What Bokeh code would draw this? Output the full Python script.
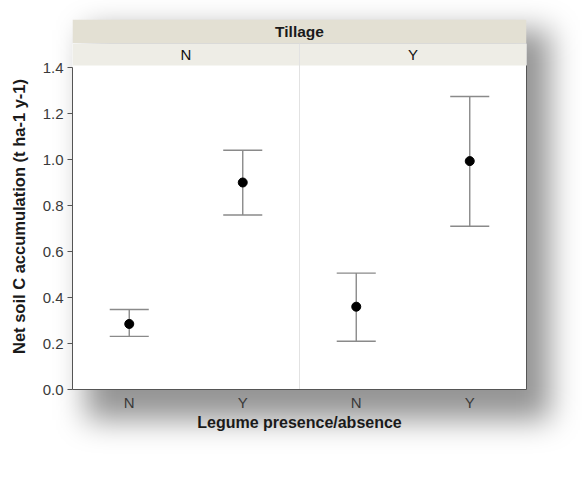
from bokeh.plotting import figure
from bokeh.layouts import column
from bokeh.models import (FixedTicker, LinearAxis, Range1d, ColumnDataSource,
                          NumeralTickFormatter, InlineStyleSheet)
from bokeh.core.properties import value
from bokeh.embed import file_html
from bokeh.resources import INLINE

# ---------------- data ----------------
tillage = ["N", "N", "Y", "Y"]
legume = ["N", "Y", "N", "Y"]
mean = [0.285, 0.900, 0.360, 0.993]
lower = [0.231, 0.759, 0.210, 0.710]
upper = [0.348, 1.040, 0.506, 1.274]
panels = ["N", "Y"]
levels = ["N", "Y"]
y_ticks = [0.0, 0.2, 0.4, 0.6, 0.8, 1.0, 1.2, 1.4]

# ---------------- layout constants ----------------
W, H = 582, 478
ML, MR = 72, 56
TOP_H = 43              # height of the "Tillage" strip figure (incl. top margin)
TOP_MT = 19
MB = 89
MAIN_H = H - TOP_H
FH = MAIN_H - MB        # main frame height in px
PX_PER_Y = 230.0
Y_END = FH / PX_PER_Y
PANEL_TOP = (FH - 22) / PX_PER_Y   # data panel top, facet strip above it
X_END = 2 * len(panels)
FONT = "Liberation Sans"

xs = [panels.index(t) * 2 + levels.index(l) + 0.5 for t, l in zip(tillage, legume)]
cap = 0.172
src = ColumnDataSource(dict(
    x=xs, mean=mean, lower=lower, upper=upper,
    cx0=[v - cap for v in xs], cx1=[v + cap for v in xs],
))

x_range = Range1d(0, X_END)

# ---------------- "Tillage" strip figure ----------------
s = figure(width=W, height=TOP_H, x_range=x_range, y_range=Range1d(0, 1),
           output_backend="svg", toolbar_location=None,
           x_axis_type=None, y_axis_type=None,
           min_border_left=ML, min_border_right=MR, min_border_top=TOP_MT,
           min_border_bottom=0)
s.outline_line_color = None
s.border_fill_alpha = 0
s.background_fill_alpha = 0
s.quad(left=[0], right=[X_END], bottom=[0], top=[1],
       fill_color="#e3e0d3", line_color=None)
s.text(x=[X_END / 2], y=[0.5], text=["Tillage"],
       text_font=value(FONT), text_font_style="bold", text_font_size="15.5px",
       text_align="center", text_baseline="middle", text_color="#1a1a1a")

# ---------------- main figure ----------------
p = figure(width=W, height=MAIN_H, x_range=x_range, y_range=Range1d(0, Y_END),
           output_backend="svg", toolbar_location=None,
           x_axis_type=None, y_axis_type=None,
           min_border_left=ML, min_border_right=MR, min_border_top=0,
           min_border_bottom=MB)
p.outline_line_color = None
p.background_fill_color = "white"
p.border_fill_alpha = 0

# facet level strip
p.quad(left=[0], right=[X_END], bottom=[PANEL_TOP], top=[Y_END],
       fill_color="#eeede6", line_color=None)
p.text(x=[i * 2 + 1 for i in range(len(panels))],
       y=[(PANEL_TOP + Y_END) / 2] * len(panels), text=panels,
       text_font=value(FONT), text_font_size="15px",
       text_align="center", text_baseline="middle", text_color="#111111")
p.segment(x0=[2], y0=[0], x1=[2], y1=[Y_END], line_color="#e2e2e2", line_width=1)

ebc = "#8a8a8a"
p.segment(x0="x", y0="lower", x1="x", y1="upper", source=src, line_color=ebc, line_width=1.4)
p.segment(x0="cx0", y0="upper", x1="cx1", y1="upper", source=src, line_color=ebc, line_width=1.4)
p.segment(x0="cx0", y0="lower", x1="cx1", y1="lower", source=src, line_color=ebc, line_width=1.4)
p.scatter(x="x", y="mean", source=src, size=9, fill_color="black", line_color="black")

yax = LinearAxis(ticker=FixedTicker(ticks=y_ticks), bounds=(0, 1.4),
                 formatter=NumeralTickFormatter(format="0.0"),
                 axis_label="Net soil C accumulation (t ha-1 y-1)")
yax.axis_label_text_font = FONT
yax.axis_label_text_font_style = "bold"
yax.axis_label_text_font_size = "16.5px"
yax.axis_label_text_color = "#1a1a1a"
yax.axis_label_standoff = 12
yax.major_label_text_font = FONT
yax.major_label_text_font_size = "15px"
yax.major_label_text_color = "#3a3a3a"
yax.major_label_standoff = 4
yax.major_tick_out = 5
yax.major_tick_in = 0
yax.major_tick_line_color = "#555555"
yax.minor_tick_line_color = None
yax.axis_line_color = "#555555"
p.add_layout(yax, "left")

xax = LinearAxis(ticker=FixedTicker(ticks=xs),
                 major_label_overrides={v: l for v, l in zip(xs, legume)},
                 axis_label="Legume presence/absence")
xax.axis_label_text_font = FONT
xax.axis_label_text_font_style = "bold"
xax.axis_label_text_font_size = "16px"
xax.axis_label_text_color = "#1a1a1a"
xax.axis_label_standoff = 0
xax.major_label_text_font = FONT
xax.major_label_text_font_size = "15px"
xax.major_label_text_color = "#3a3a3a"
xax.major_label_standoff = 4
xax.major_tick_out = 0
xax.major_tick_in = 0
xax.major_tick_line_color = None
xax.minor_tick_line_color = None
xax.axis_line_color = "#555555"
p.add_layout(xax, "below")

rax = LinearAxis(ticker=FixedTicker(ticks=[]), bounds=(0, PANEL_TOP))
rax.major_label_text_font_size = "0px"
rax.major_tick_line_color = None
rax.minor_tick_line_color = None
rax.axis_line_color = "#555555"
p.add_layout(rax, "right")

# ---------------- layout with soft drop shadow behind the panel ----------------
shadow_css = """
:host { position: relative; z-index: 0; }
:host::before {
  content: "";
  position: absolute;
  left: 86px; top: 30px; width: 464px; height: 390px;
  background: rgba(0, 0, 0, 0.42);
  filter: blur(15px);
  z-index: -1;
  pointer-events: none;
}
"""
layout = column(s, p, spacing=0)
layout.stylesheets = [InlineStyleSheet(css=shadow_css)]

open("out.html", "w").write(file_html(layout, INLINE))
